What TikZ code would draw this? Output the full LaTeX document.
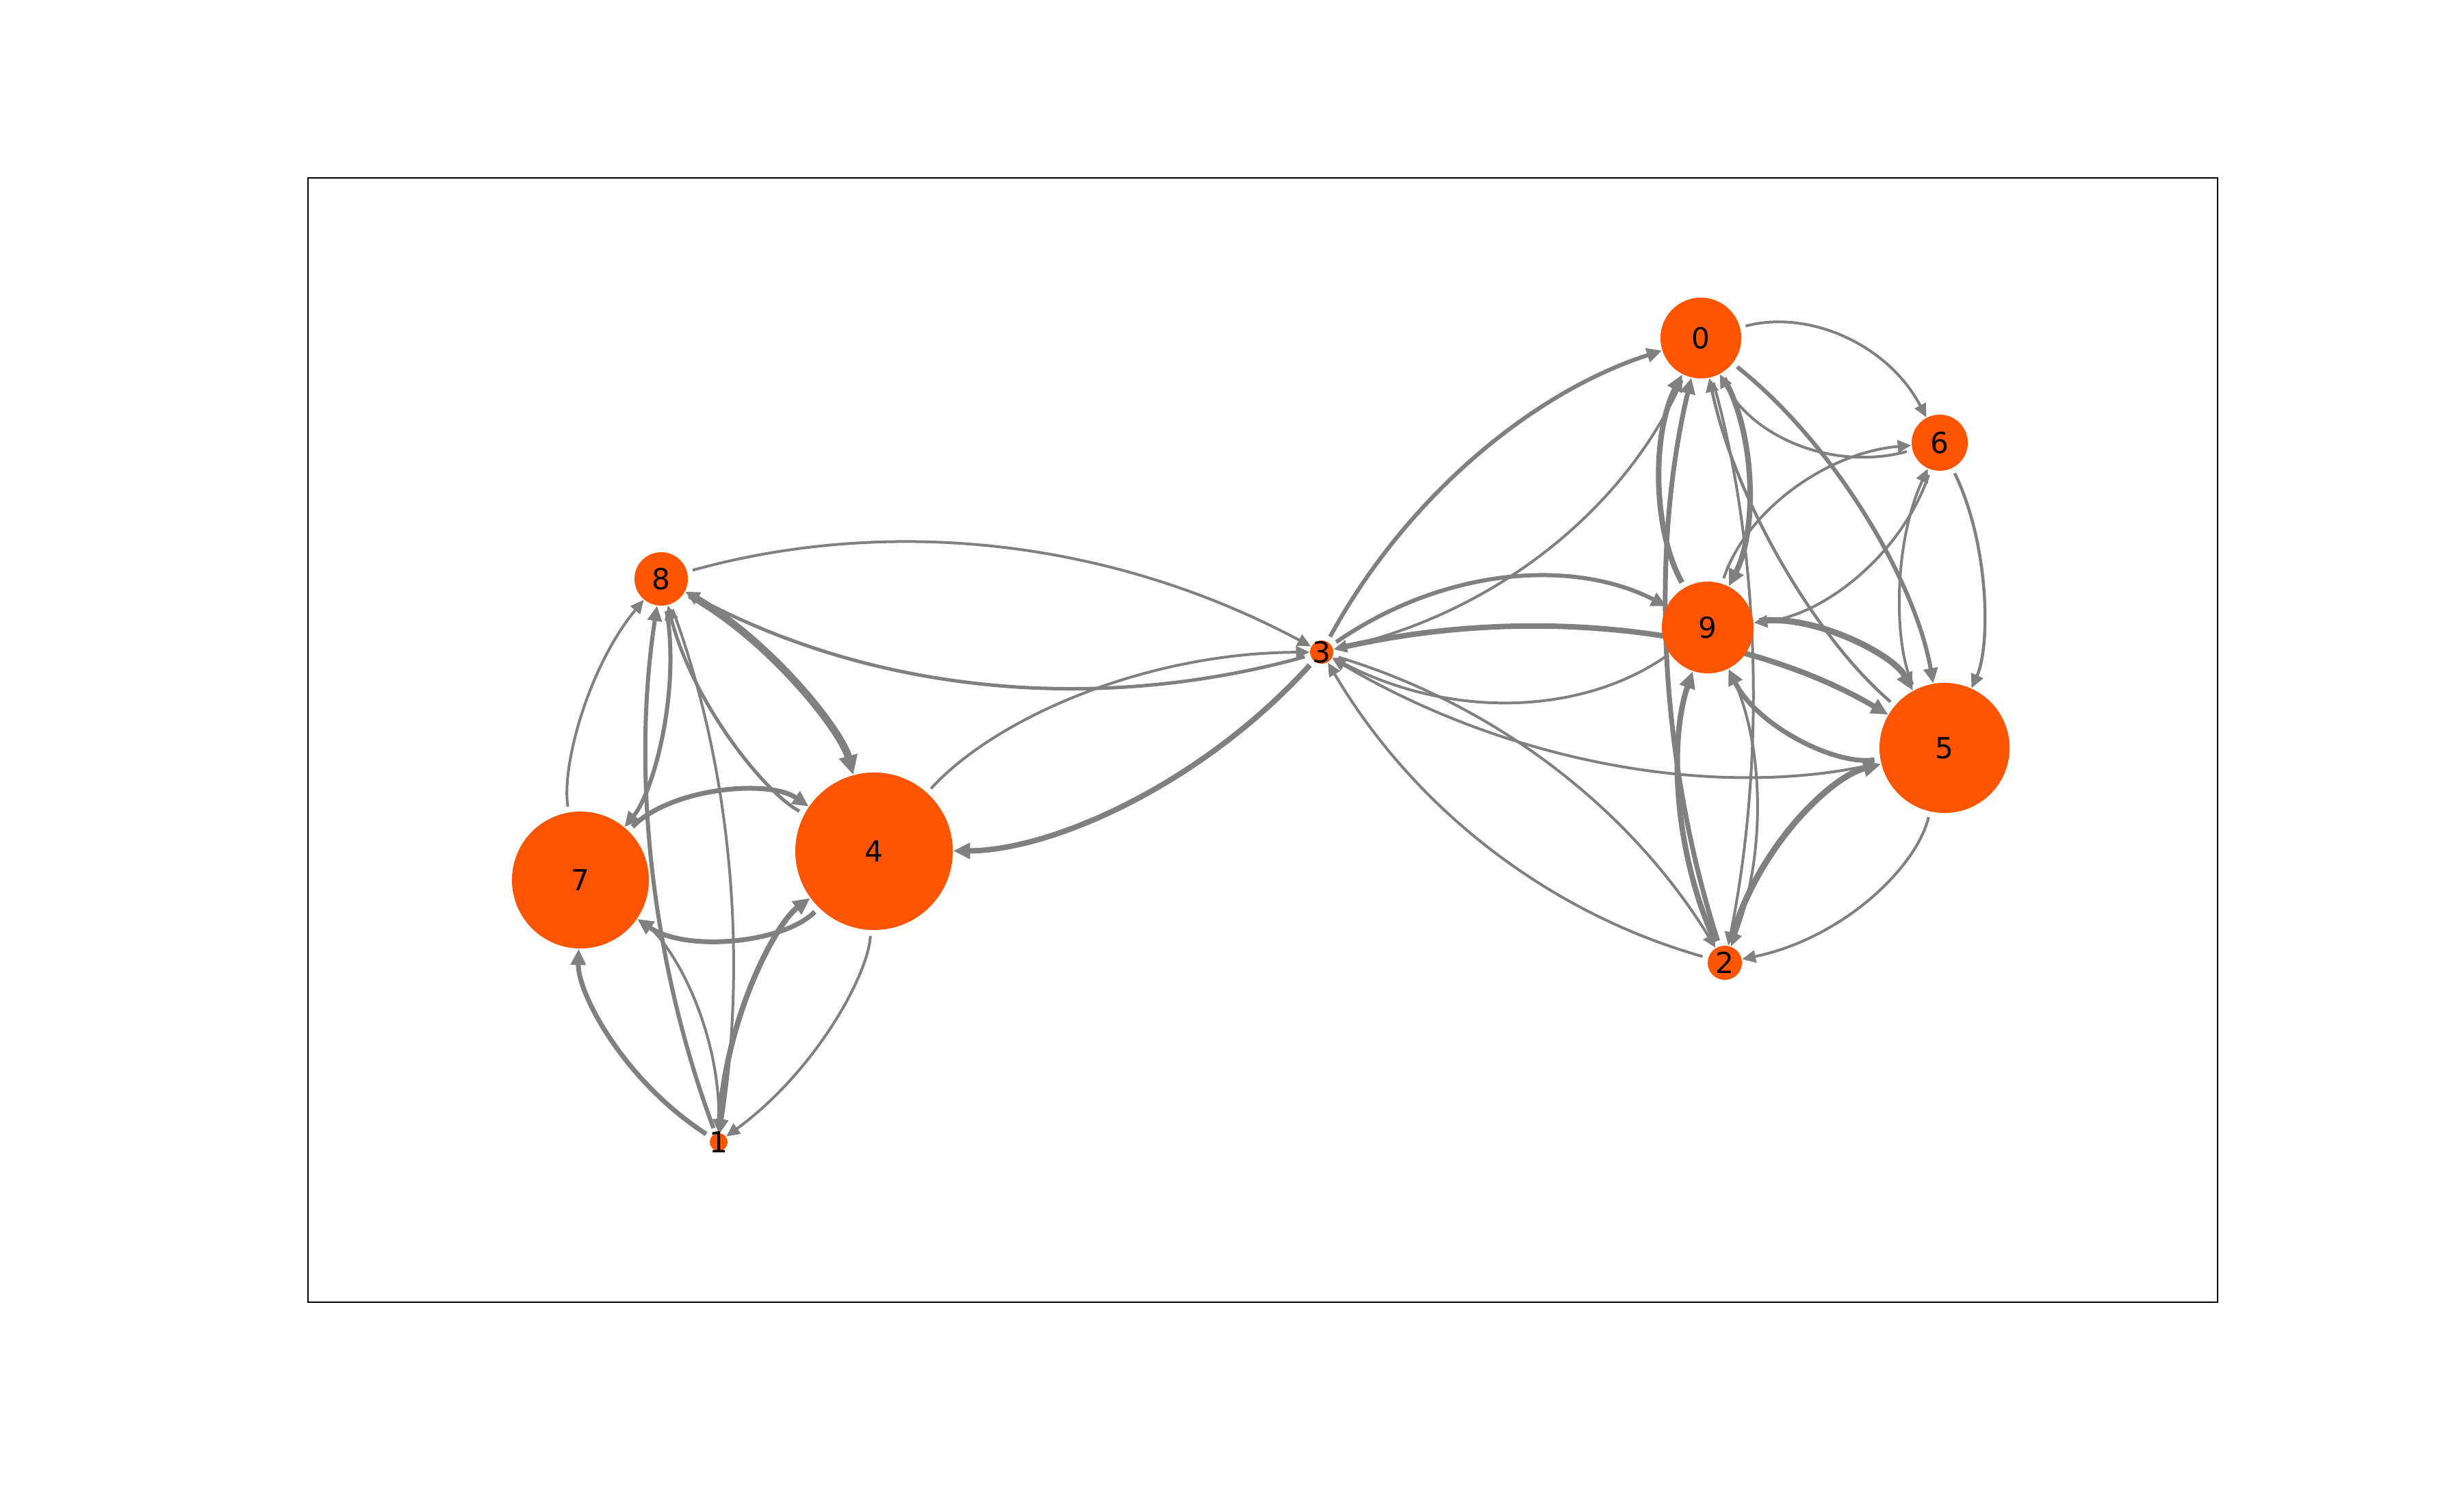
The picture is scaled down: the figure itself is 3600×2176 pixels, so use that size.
\documentclass[tikz,border=0pt]{standalone}
\usepackage{fontspec}
\setmainfont{DejaVu Sans}
\usetikzlibrary{arrows.meta,calc}
\definecolor{nodeorange}{HTML}{FF5500}
\pgfdeclarelayer{bglayer}
\pgfdeclarelayer{edgelayer}
\pgfsetlayers{bglayer,edgelayer,main}
% arc3-style curved edge: #1 source, #2 target, #3 bend ratio, #4 width (px)
\newcommand{\gedge}[4]{%
  \pgfmathsetmacro{\gk}{sqrt(1+4*(#3)*(#3))/3}%
  \pgfmathsetmacro{\ga}{atan(2*(#3))}%
  \pgfmathsetmacro{\gb}{-\ga}%
  \pgfmathsetmacro{\gw}{(#4)*0.01}%
  \draw[link, line width=\gw cm] (#1) .. controls ($(#1)!\gk!\ga:(#2)$) and ($(#2)!\gk!\gb:(#1)$) .. (#2);%
}
\begin{document}
\begin{tikzpicture}[x=0.01cm, y=-0.01cm,
  vtx/.style={circle, fill=nodeorange, draw=none, inner sep=0pt},
  lbl/.style={font=\fontsize{12}{14}\selectfont, inner sep=0pt, text=black},
  link/.style={draw=gray, -{Triangle[length=0.15cm 1.2, width=0.13cm 1.2]}, shorten <=0.08cm}]
\begin{pgfonlayer}{bglayer}
  \fill[white] (0,0) rectangle (3600,2176);
\end{pgfonlayer}
\useasboundingbox (0,0) rectangle (3600,2176);
\draw[line width=0.025cm] (450,260) rectangle (3240,1903);

% vertices
\node[vtx, minimum size=1.18cm] (n0) at (2485,494) {};
\node[vtx, minimum size=0.26cm] (n1) at (1050,1669) {};
\node[vtx, minimum size=0.50cm] (n2) at (2520,1407) {};
\node[vtx, minimum size=0.34cm] (n3) at (1931,953) {};
\node[vtx, minimum size=2.30cm] (n4) at (1277,1244) {};
\node[vtx, minimum size=1.90cm] (n5) at (2841,1093) {};
\node[vtx, minimum size=0.82cm] (n6) at (2834,647) {};
\node[vtx, minimum size=2.00cm] (n7) at (848,1286) {};
\node[vtx, minimum size=0.78cm] (n8) at (966,846) {};
\node[vtx, minimum size=1.34cm] (n9) at (2495,917) {};

\begin{pgfonlayer}{edgelayer}
  % left group
  \gedge{n8}{n3}{0.2}{4}
  \gedge{n3}{n8}{0.2}{5}
  \gedge{n8}{n4}{0.21}{11}
  \gedge{n4}{n8}{0.22}{5}
  \gedge{n7}{n8}{0.23}{4}
  \gedge{n8}{n7}{0.23}{6}
  \gedge{n1}{n8}{0.13}{6}
  \gedge{n8}{n1}{0.13}{4}
  \gedge{n1}{n7}{0.28}{7}
  \gedge{n7}{n1}{0.27}{4}
  \gedge{n7}{n4}{0.42}{7}
  \gedge{n4}{n7}{0.42}{7}
  \gedge{n1}{n4}{0.24}{8}
  \gedge{n4}{n1}{0.24}{4}
  \gedge{n3}{n4}{0.22}{8}
  \gedge{n4}{n3}{0.22}{4}
  % right group
  \gedge{n3}{n0}{0.2}{6}
  \gedge{n0}{n3}{0.25}{4}
  \gedge{n3}{n9}{0.3}{6}
  \gedge{n9}{n3}{0.3}{4}
  \gedge{n3}{n5}{0.2}{8}
  \gedge{n5}{n3}{0.2}{4}
  \gedge{n2}{n3}{0.2}{4}
  \gedge{n3}{n2}{0.19}{4}
  \gedge{n9}{n0}{0.27}{8}
  \gedge{n0}{n9}{0.27}{8}
  \gedge{n2}{n0}{0.14}{7}
  \gedge{n0}{n2}{0.12}{4}
  \gedge{n0}{n5}{0.19}{6}
  \gedge{n5}{n0}{0.17}{4.5}
  \gedge{n0}{n6}{0.4}{4}
  \gedge{n6}{n0}{0.4}{4}
  \gedge{n9}{n5}{0.34}{9}
  \gedge{n5}{n9}{0.37}{7}
  \gedge{n2}{n9}{0.2}{8}
  \gedge{n9}{n2}{0.22}{4}
  \gedge{n2}{n5}{0.29}{9}
  \gedge{n5}{n2}{0.32}{4}
  \gedge{n6}{n5}{0.235}{4.5}
  \gedge{n5}{n6}{0.24}{4}
  \gedge{n9}{n6}{0.33}{4}
  \gedge{n6}{n9}{0.32}{4}
\end{pgfonlayer}

% vertex labels
\node[lbl] (l0) at (n0) {0};
\node[lbl] (l1) at (n1) {1};
\node[lbl] (l2) at (n2) {2};
\node[lbl] (l3) at (n3) {3};
\node[lbl] (l4) at (n4) {4};
\node[lbl] (l5) at (n5) {5};
\node[lbl] (l6) at (n6) {6};
\node[lbl] (l7) at (n7) {7};
\node[lbl] (l8) at (n8) {8};
\node[lbl] (l9) at (n9) {9};
\end{tikzpicture}
\end{document}
